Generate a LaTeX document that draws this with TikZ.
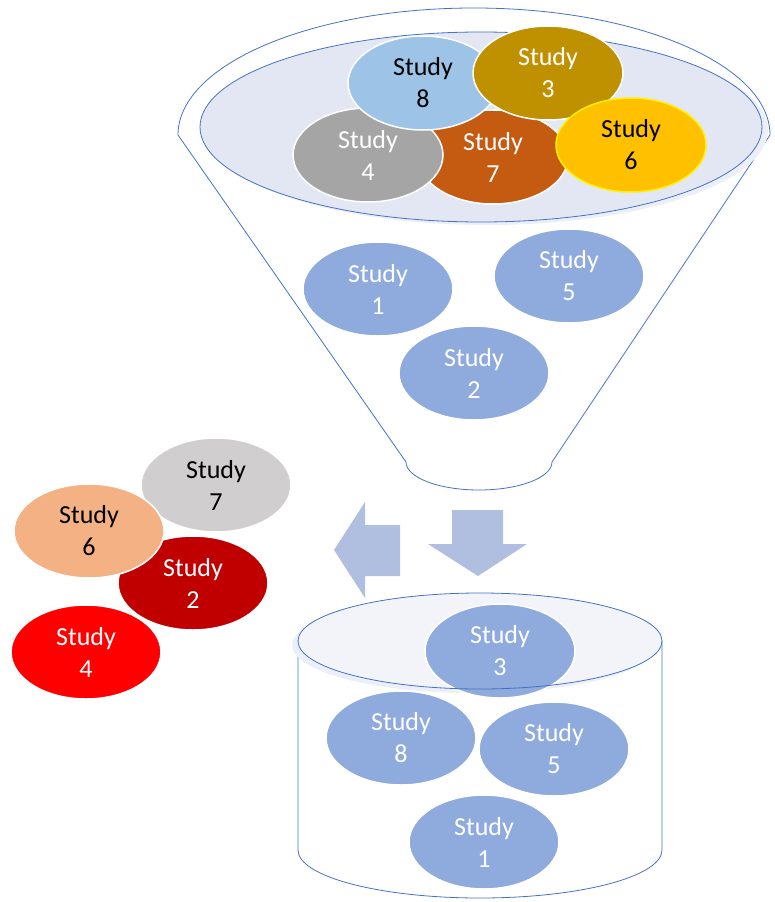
\documentclass[tikz,border=0pt]{standalone}
\usepackage{fontspec}
\setmainfont{Carlito}
\usetikzlibrary{shapes.geometric}
\definecolor{rimblue}{HTML}{4472C4}
\definecolor{rimfill}{HTML}{E2E7F3}
\definecolor{rimshade}{HTML}{ECEFF7}
\definecolor{studyblue}{HTML}{8FAADC}
\definecolor{arrowblue}{HTML}{B0BEE0}
\definecolor{lightblue}{HTML}{9DC3E6}
\definecolor{olive}{HTML}{BF9000}
\definecolor{midgray}{HTML}{A5A5A5}
\definecolor{rust}{HTML}{C55A11}
\definecolor{gold}{HTML}{FFC000}
\definecolor{palegray}{HTML}{D0CECE}
\definecolor{peach}{HTML}{F4B183}
\definecolor{darkred}{HTML}{C00000}
\begin{document}
\begin{tikzpicture}[x=1pt,y=1pt, line join=round, line cap=round,
	font=\fontsize{26}{32}\selectfont,
	study/.style={ellipse, minimum width=150pt, minimum height=94pt, inner sep=0pt,
		align=center, draw=white, line width=1.5pt, fill=studyblue, text=white},
	dark/.style={text=black},
	rim/.style={draw=rimblue, line width=0.8pt}]
	\useasboundingbox (0,0) rectangle (775,-902);
	\path 
	(423,-83) coordinate (F8)
	(548,-73) coordinate (F3)
	(368,-155) coordinate (F4)
	(493,-157) coordinate (F7)
	(631,-145) coordinate (F6)
	(378,-289) coordinate (F1)
	(569,-276) coordinate (F5)
	(474,-373) coordinate (F2)
	;
	% funnel
	\draw[rim, fill=white] (178,-135) arc[start angle=180, end angle=0, x radius=296, y radius=127]
		-- (552,-462) arc[start angle=0, end angle=-180, x radius=73, y radius=28] -- cycle;
	\fill[rimshade] (487,-130) ellipse[x radius=281, y radius=95];
	\draw[rim, fill=rimfill] (481,-127) ellipse[x radius=281, y radius=95];
	\node[study, fill=rust] (f7) at (F7) {Study\\7};
	\node[study, fill=midgray] (f4) at (F4) {Study\\4};
	\node[study, fill=lightblue, dark] (f8) at (F8) {Study\\8};
	\node[study, fill=olive] (f3) at (F3) {Study\\3};
	\node[study, fill=gold, draw=yellow, dark] (f6) at (F6) {Study\\6};
	\node[study] (f1) at (F1) {Study\\1};
	\node[study] (f5) at (F5) {Study\\5};
	\node[study] (f2) at (F2) {Study\\2};
	% arrows
	\fill[arrowblue] (334,-550) -- (365,-502) -- (365,-525) -- (400,-525) -- (400,-576)
		-- (365,-576) -- (365,-598) -- cycle;
	\fill[arrowblue] (452,-510) -- (503,-510) -- (503,-544) -- (527,-544) -- (478,-576)
		-- (428,-544) -- (452,-544) -- cycle;
	% left cluster
	\node[study, fill=palegray, dark] (l7) at (216,-485) {Study\\7};
	\node[study, fill=darkred] (l2) at (193,-583) {Study\\2};
	\node[study, fill=peach, dark] (l6) at (89,-531) {Study\\6};
	\node[study, fill=red] (l4) at (86,-652) {Study\\4};
	% cylinder
	\draw[rim, fill=white] (298,-641) -- (298,-850)
		arc[start angle=180, end angle=360, x radius=182, y radius=48] -- (662,-641);
	\fill[rimshade] (474,-645) ellipse[x radius=182, y radius=48];
	\fill[rimshade!70!white] (480,-641) ellipse[x radius=182, y radius=48];
	\node[study] (c3) at (500,-651) {Study\\3};
	\draw[rim] (480,-641) ellipse[x radius=182, y radius=48];
	\node[study] (c8) at (401,-738) {Study\\8};
	\node[study] (c5) at (554,-749) {Study\\5};
	\node[study] (c1) at (484,-842) {Study\\1};
\end{tikzpicture}
\end{document}
